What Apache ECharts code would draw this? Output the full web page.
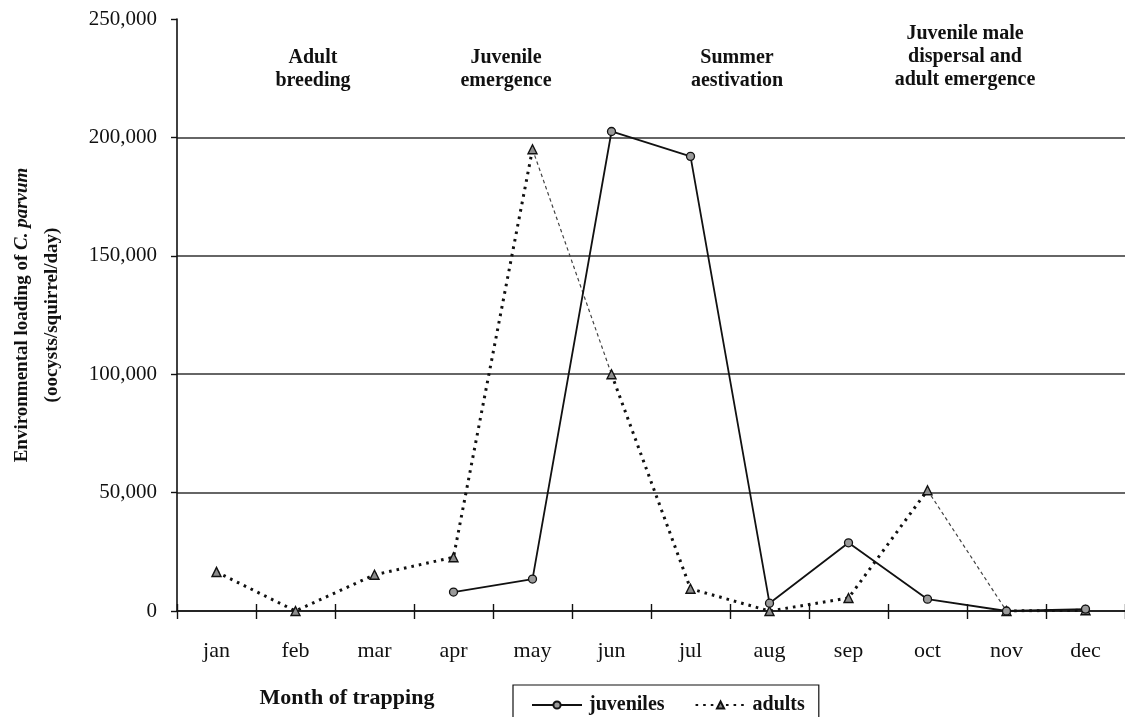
<!DOCTYPE html>
<html>
<head>
<meta charset="utf-8">
<title>Environmental loading of C. parvum by month of trapping</title>
<script src="https://cdn.jsdelivr.net/npm/echarts@6/dist/echarts.min.js"></script>
<style>
  html, body { margin: 0; padding: 0; background: #fff; }
  #chart { width: 1125px; height: 717px; }
</style>
</head>
<body>
<div id="chart"></div>
<script>
// Months of trapping and mean oocyst loading per squirrel per day
const months = ['jan', 'feb', 'mar', 'apr', 'may', 'jun', 'jul', 'aug', 'sep', 'oct', 'nov', 'dec'];
const juveniles = [null, null, null, 8000, 13500, 202500, 192000, 3300, 28800, 5000, 0, 800];
const adults = [16500, 0, 15300, 22700, 195000, 100000, 9400, 0, 5500, 51000, 0, 300];

// Adult segments drawn with a fine dashed stroke (start month index of each segment)
const adultThinSegments = [4, 9];

// Seasonal phases written above the curves
const phaseLabels = [
  'Adult\nbreeding',
  'Juvenile\nemergence',
  'Summer\naestivation',
  'Juvenile male\ndispersal and\nadult emergence'
];

const yTicks = { min: 0, max: 250000, step: 50000 };

const FONT = "'Liberation Serif', 'Times New Roman', serif";
const INK = '#111';

// Split the adult curve into heavy dotted runs and fine dashed links
function runsOf(values, thinStarts) {
  const heavy = [];
  let start = 0;
  thinStarts.forEach(s => { heavy.push([start, s]); start = s + 1; });
  heavy.push([start, values.length - 1]);
  const pick = (a, b) => values.map((v, i) => (i >= a && i <= b ? v : null));
  return {
    heavy: heavy.map(([a, b]) => pick(a, b)),
    thin: thinStarts.map(s => pick(s, s + 1))
  };
}
const adultRuns = runsOf(adults, adultThinSegments);

const heavyDots = { color: INK, width: 3, type: [2.6, 5], cap: 'butt' };
const triangleStyle = { color: '#8c8c8c', borderColor: INK, borderWidth: 1.4 };

const series = [
  {
    name: 'juveniles',
    type: 'line',
    data: juveniles,
    symbol: 'circle',
    symbolSize: 8,
    showAllSymbol: true,
    lineStyle: { color: INK, width: 1.8 },
    itemStyle: { color: '#9a9a9a', borderColor: INK, borderWidth: 1.3 },
    z: 4
  }
];
adultRuns.heavy.forEach(run => {
  series.push({
    name: 'adults',
    type: 'line',
    data: run,
    symbol: 'triangle',
    symbolSize: 9,
    showAllSymbol: true,
    lineStyle: heavyDots,
    itemStyle: triangleStyle,
    z: 3
  });
});
adultRuns.thin.forEach(run => {
  series.push({
    name: 'adults',
    type: 'line',
    data: run,
    showSymbol: false,
    lineStyle: { color: '#444', width: 1.2, type: [3.5, 3] },
    z: 2
  });
});

const phaseX = [313, 506, 737, 965];
const phaseY = [69, 69, 69, 57];

const chart = echarts.init(document.getElementById('chart'), null, { renderer: 'canvas' });

const boldText = (text, x, y, size) => ({
  type: 'text',
  x: x,
  y: y,
  style: {
    text: text,
    align: 'center',
    verticalAlign: 'middle',
    fontFamily: FONT,
    fontWeight: 'bold',
    fontSize: size,
    lineHeight: 23,
    fill: INK
  }
});

chart.setOption({
  backgroundColor: '#fff',
  animation: false,
  textStyle: { fontFamily: FONT, color: INK },
  grid: { left: 177, top: 19, width: 954, bottom: 106, containLabel: false },
  legend: {
    data: ['juveniles', 'adults'],
    left: 513,
    top: 685,
    orient: 'horizontal',
    itemWidth: 50,
    itemHeight: 9,
    itemGap: 30,
    padding: [10, 14, 20, 18],
    borderColor: INK,
    borderWidth: 1.2,
    textStyle: { fontFamily: FONT, fontWeight: 'bold', fontSize: 20, color: INK, padding: [0, 0, 0, 2] }
  },
  xAxis: [
    {
      type: 'category',
      data: months,
      boundaryGap: true,
      axisLine: { show: true, lineStyle: { color: INK, width: 1.6 } },
      axisTick: { show: true, length: 8, lineStyle: { color: INK, width: 1.4 } },
      axisLabel: { fontFamily: FONT, fontSize: 22, color: INK, margin: 29 },
      splitLine: { show: false }
    },
    {
      // inner half of the crossing tick marks
      type: 'category',
      data: months,
      boundaryGap: true,
      position: 'bottom',
      axisLine: { show: false },
      axisTick: { show: true, inside: true, length: 7, lineStyle: { color: INK, width: 1.4 } },
      axisLabel: { show: false },
      splitLine: { show: false }
    }
  ],
  yAxis: {
    type: 'value',
    min: yTicks.min,
    max: yTicks.max,
    interval: yTicks.step,
    name: '{t|Environmental loading of }{i|C. parvum}\n{t|(oocysts/squirrel/day)}',
    nameLocation: 'middle',
    nameRotate: 90,
    nameGap: 110,
    nameTextStyle: {
      rich: {
        t: { fontFamily: FONT, fontWeight: 'bold', fontSize: 19, color: INK, lineHeight: 30 },
        i: { fontFamily: FONT, fontWeight: 'bold', fontStyle: 'italic', fontSize: 19, color: INK, lineHeight: 30 }
      }
    },
    axisLine: { show: true, lineStyle: { color: INK, width: 1.6 } },
    axisTick: { show: true, length: 6, lineStyle: { color: INK, width: 1.4 } },
    axisLabel: {
      fontFamily: FONT, fontSize: 21, color: INK, margin: 20,
      formatter: v => v.toLocaleString('en-US')
    },
    splitLine: {
      show: true,
      lineStyle: { color: ['#333', '#333', '#333', '#333', '#333', 'rgba(0,0,0,0)'], width: 1.5 }
    }
  },
  graphic: phaseLabels
    .map((txt, i) => boldText(txt, phaseX[i], phaseY[i], 20))
    .concat([boldText('Month of trapping', 347, 698, 22)]),
  series: series
});
</script>
</body>
</html>
